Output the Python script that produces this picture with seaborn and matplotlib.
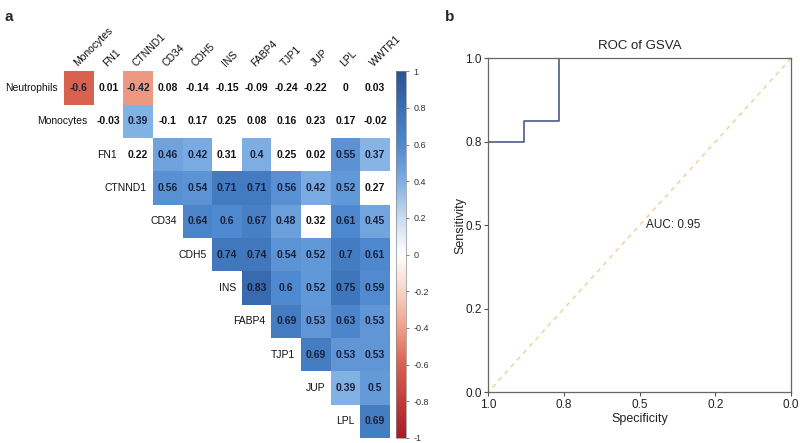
import numpy as np
import pandas as pd
import matplotlib
matplotlib.use("Agg")
import matplotlib.pyplot as plt
from matplotlib.colors import LinearSegmentedColormap, ListedColormap
import seaborn as sns

# ---- data ----
row_names = ["Neutrophils", "Monocytes", "FN1", "CTNND1", "CD34", "CDH5",
             "INS", "FABP4", "TJP1", "JUP", "LPL"]
col_names = ["Monocytes", "FN1", "CTNND1", "CD34", "CDH5", "INS",
             "FABP4", "TJP1", "JUP", "LPL", "WWTR1"]

# upper triangle, row i starts at column i
r_neutrophils = [-0.6, 0.01, -0.42, 0.08, -0.14, -0.15, -0.09, -0.24, -0.22, 0, 0.03]
r_monocytes = [-0.03, 0.39, -0.1, 0.17, 0.25, 0.08, 0.16, 0.23, 0.17, -0.02]
r_fn1 = [0.22, 0.46, 0.42, 0.31, 0.4, 0.25, 0.02, 0.55, 0.37]
r_ctnnd1 = [0.56, 0.54, 0.71, 0.71, 0.56, 0.42, 0.52, 0.27]
r_cd34 = [0.64, 0.6, 0.67, 0.48, 0.32, 0.61, 0.45]
r_cdh5 = [0.74, 0.74, 0.54, 0.52, 0.7, 0.61]
r_ins = [0.83, 0.6, 0.52, 0.75, 0.59]
r_fabp4 = [0.69, 0.53, 0.63, 0.53]
r_tjp1 = [0.69, 0.53, 0.53]
r_jup = [0.39, 0.5]
r_lpl = [0.69]

# 1 = significant (coloured), 0 = blank cell
s_neutrophils = [1, 0, 1, 0, 0, 0, 0, 0, 0, 0, 0]
s_monocytes = [0, 1, 0, 0, 0, 0, 0, 0, 0, 0]
s_fn1 = [0, 1, 1, 0, 1, 0, 0, 1, 1]
s_ctnnd1 = [1, 1, 1, 1, 1, 1, 1, 0]
s_cd34 = [1, 1, 1, 1, 0, 1, 1]
s_cdh5 = [1, 1, 1, 1, 1, 1]
s_ins = [1, 1, 1, 1, 1]
s_fabp4 = [1, 1, 1, 1]
s_tjp1 = [1, 1, 1]
s_jup = [1, 1]
s_lpl = [1]

# ROC of GSVA
specificity = [1.0, 1.0, 0.882, 0.882, 0.765, 0.765, 0.0]
sensitivity = [0.0, 0.75, 0.75, 0.8125, 0.8125, 1.0, 1.0]
chance_spec = [1.0, 0.0]
chance_sens = [0.0, 1.0]
auc = 0.95

# ---- build matrices ----
vals = [r_neutrophils, r_monocytes, r_fn1, r_ctnnd1, r_cd34, r_cdh5,
        r_ins, r_fabp4, r_tjp1, r_jup, r_lpl]
sigs = [s_neutrophils, s_monocytes, s_fn1, s_ctnnd1, s_cd34, s_cdh5,
        s_ins, s_fabp4, s_tjp1, s_jup, s_lpl]
n = len(row_names)
mat = np.full((n, n), np.nan)
sig = np.zeros((n, n), dtype=bool)
for i in range(n):
    mat[i, i:] = vals[i]
    sig[i, i:] = np.array(sigs[i], dtype=bool)
df = pd.DataFrame(mat, index=row_names, columns=col_names)
empty = np.isnan(mat)

sns.set_style("white")
plt.rcParams['font.family'] = ['Liberation Sans', 'DejaVu Sans']

cmap = LinearSegmentedColormap.from_list("corr", [
    (0.0, "#a61c2a"), (0.1, "#c23c3a"), (0.2, "#d9614f"), (0.3, "#ef9f88"),
    (0.4, "#f8d3c7"), (0.5, "#ffffff"), (0.6, "#c9dcf3"), (0.7, "#7eaee3"),
    (0.8, "#4f89cf"), (0.9, "#3a6fb5"), (1.0, "#2b5390")])

fig = plt.figure(figsize=(8, 4.43), dpi=100)
ax = fig.add_axes([0.08, 0.0113, 0.4075, 0.828])
cax = fig.add_axes([0.495, 0.0113, 0.0125, 0.828])

sns.heatmap(df, mask=empty | ~sig, cmap=cmap, vmin=-1, vmax=1, annot=True,
            fmt="g", annot_kws=dict(color="#18203a", weight="bold", size=7.5),
            cbar=True, cbar_ax=cax, ax=ax, xticklabels=True, yticklabels=False)
sns.heatmap(df, mask=empty | sig, cmap=ListedColormap(["white"]), annot=True,
            fmt="g", annot_kws=dict(color="#111111", weight="bold", size=7.5),
            cbar=False, ax=ax, xticklabels=True, yticklabels=False)

ax.xaxis.tick_top()
ax.tick_params(axis="x", length=0, pad=2, labelsize=7.5, labelcolor="#111111")
for lab in ax.get_xticklabels():
    lab.set_rotation(45)
    lab.set_ha("left")
    lab.set_va("bottom")
    lab.set_rotation_mode("anchor")
ax.set_xlabel("")
ax.set_ylabel("")
for i, name in enumerate(row_names):
    ax.text(i - 0.2, i + 0.5, name, ha="right", va="center", fontsize=7.5,
            color="#111111")

cb = ax.collections[0].colorbar
ticks = np.round(np.arange(-1, 1.01, 0.2), 1)
cb.set_ticks(ticks)
cb.set_ticklabels([f"{t:g}" if abs(t) > 1e-9 else "0" for t in ticks])
cb.ax.tick_params(labelsize=6.5, length=2, width=0.5, color="#555555",
                  labelcolor="#333333")
cb.outline.set_linewidth(0.5)
cb.outline.set_edgecolor("#888888")

# ---- ROC panel ----
ax2 = fig.add_axes([0.61, 0.1145, 0.379, 0.754])
sns.lineplot(x=chance_spec, y=chance_sens, ax=ax2, color="#f0d49c",
             linestyle=(0, (3, 3)), linewidth=1.1)
sns.lineplot(x=specificity, y=sensitivity, ax=ax2, sort=False, estimator=None,
             color="#4b5b8c", linewidth=1.2)
ax2.set_xlim(1.0, 0.0)
ax2.set_ylim(0.0, 1.0)
pos = [1.0, 0.75, 0.5, 0.25, 0.0]
labs = ["1.0", "0.8", "0.5", "0.2", "0.0"]
ax2.set_xticks(pos)
ax2.set_xticklabels(labs)
ax2.set_yticks(pos)
ax2.set_yticklabels(labs)
ax2.tick_params(length=3, width=0.8, color="#555555", labelsize=8.5,
                labelcolor="#222222", pad=1.5, bottom=True, left=True)
for s in ax2.spines.values():
    s.set_color("#666666")
    s.set_linewidth(0.9)
ax2.set_xlabel("Specificity", fontsize=9, color="#222222", labelpad=2)
ax2.set_ylabel("Sensitivity", fontsize=9, color="#222222", labelpad=-1)
ax2.set_title("ROC of GSVA", fontsize=9.5, color="#222222", pad=7)
ax2.text(0.48, 0.5, f"AUC: {auc:.2f}", ha="left", va="center", fontsize=8.5,
         color="#222222")

fig.text(0.006, 0.978, "a", fontsize=11, weight="bold", va="top")
fig.text(0.556, 0.978, "b", fontsize=11, weight="bold", va="top")

fig.savefig("out.png", dpi=100)
